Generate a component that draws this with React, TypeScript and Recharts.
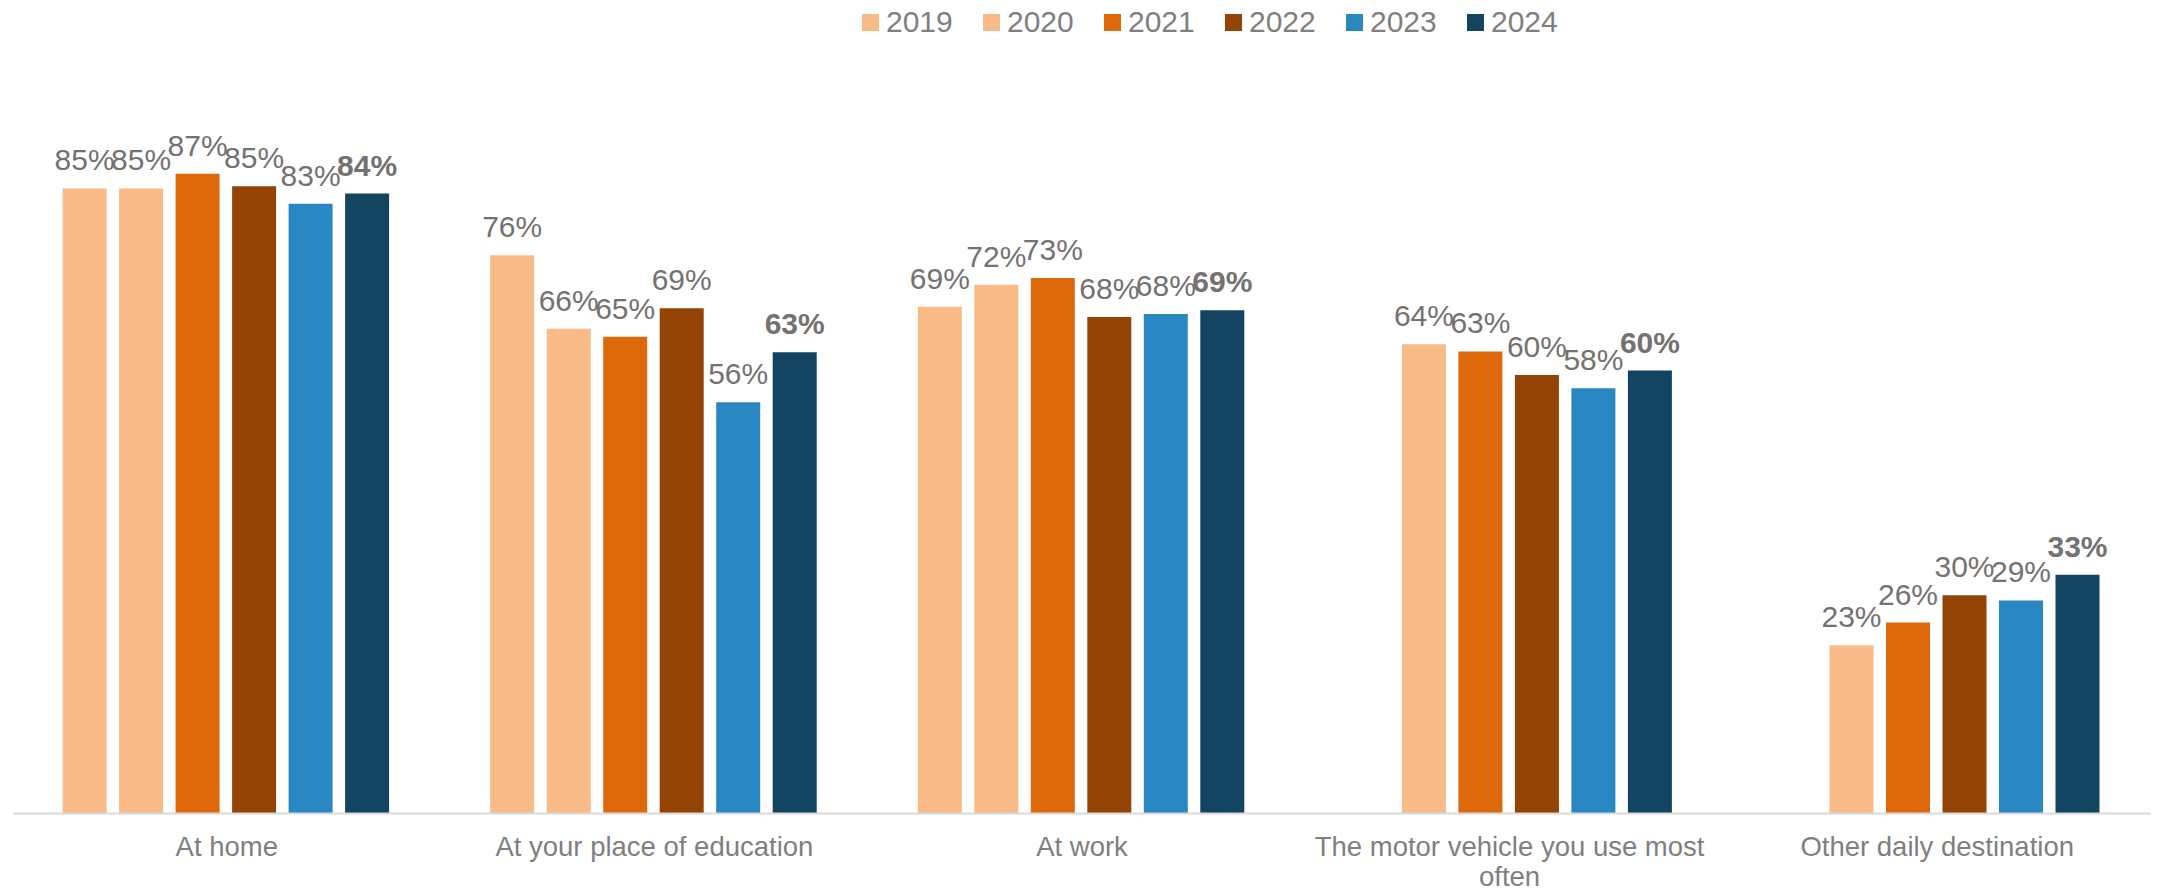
import { BarChart, Bar, XAxis, YAxis, Legend, LabelList } from "recharts";

const categories = [
    "At home",
    "At your place of education",
    "At work",
    "The motor vehicle you use most often",
    "Other daily destination",
];

const years = ["2019", "2020", "2021", "2022", "2023", "2024"];

const v2019 = [85.1, 76.0, 69.0, null, null];
const v2020 = [85.1, 66.0, 72.0, 63.9, 22.9];
const v2021 = [87.1, 64.9, 72.9, 62.9, 26.0];
const v2022 = [85.4, 68.8, 67.6, 59.7, 29.7];
const v2023 = [83.0, 56.0, 68.0, 57.9, 29.0];
const v2024 = [84.4, 62.8, 68.5, 60.3, 32.5];

const yearColors = ["#F9BB88", "#F9BB88", "#DE690B", "#934405", "#2988C2", "#134462"];

const series = [v2019, v2020, v2021, v2022, v2023, v2024];

const rows = categories.map((name, i) => {
    const row: Record<string, string | number | null> = { name };
    years.forEach((y, j) => {
        row["y" + y] = series[j][i];
    });
    return row;
});

const FONT = '"Liberation Sans", Arial, sans-serif';
const pct = (v: any) => (v == null ? "" : `${Math.round(Number(v))}%`);

// greedy word wrap, about 30 characters a line like the original
function wrapWords(s: string, maxChars = 30) {
    const lines: string[] = [];
    let cur = "";
    s.split(" ").forEach((w) => {
        const next = cur ? cur + " " + w : w;
        if (next.length > maxChars && cur) {
            lines.push(cur);
            cur = w;
        } else {
            cur = next;
        }
    });
    if (cur) lines.push(cur);
    return lines;
}

function CategoryTick(props: any) {
    const { x, y, payload } = props;
    const lines = wrapWords(String(payload.value));
    return (
        <text
            x={x}
            y={y + 42}
            textAnchor="middle"
            fontSize={27.5}
            fontFamily={FONT}
            fill="#7F7F7F"
        >
            {lines.map((l, i) => (
                <tspan key={i} x={x} dy={i === 0 ? 0 : 30}>
                    {l}
                </tspan>
            ))}
        </text>
    );
}

function YearLegend() {
    return (
        <div style={{ display: "flex", fontFamily: FONT, fontSize: 30, color: "#7F7F7F", lineHeight: "34px" }}>
            {years.map((y, i) => (
                <div key={y} style={{ display: "flex", alignItems: "center", width: 121 }}>
                    <span style={{ width: 17, height: 17, background: yearColors[i], marginRight: 7 }} />
                    <span>{y}</span>
                </div>
            ))}
        </div>
    );
}

export default function App() {
    return (
        <div style={{ position: "absolute", left: 0, top: 0, background: "#fff" }}>
            <BarChart
                width={2158}
                height={892}
                data={rows}
                margin={{ top: 39, right: 7, left: 13, bottom: 48.5 }}
                barGap={12.5}
                barCategoryGap={49.6}
            >
                <XAxis
                    dataKey="name"
                    axisLine={{ stroke: "#D9D9D9", strokeWidth: 2 }}
                    tickLine={false}
                    tickSize={0}
                    tickMargin={0}
                    interval={0}
                    tick={<CategoryTick />}
                />
                <YAxis hide domain={[0, 100]} />
                <Legend
                    verticalAlign="top"
                    height={40}
                    content={<YearLegend />}
                    wrapperStyle={{ left: 862, top: 5, width: 740 }}
                />
                {years.map((y, i) => (
                    <Bar key={y} dataKey={"y" + y} name={y} fill={yearColors[i]} isAnimationActive={false}>
                        <LabelList
                            dataKey={"y" + y}
                            position="top"
                            offset={18}
                            formatter={pct}
                            fill="#767171"
                            fontSize={30}
                            fontFamily={FONT}
                            fontWeight={i === 5 ? "bold" : "normal"}
                        />
                    </Bar>
                ))}
            </BarChart>
        </div>
    );
}
